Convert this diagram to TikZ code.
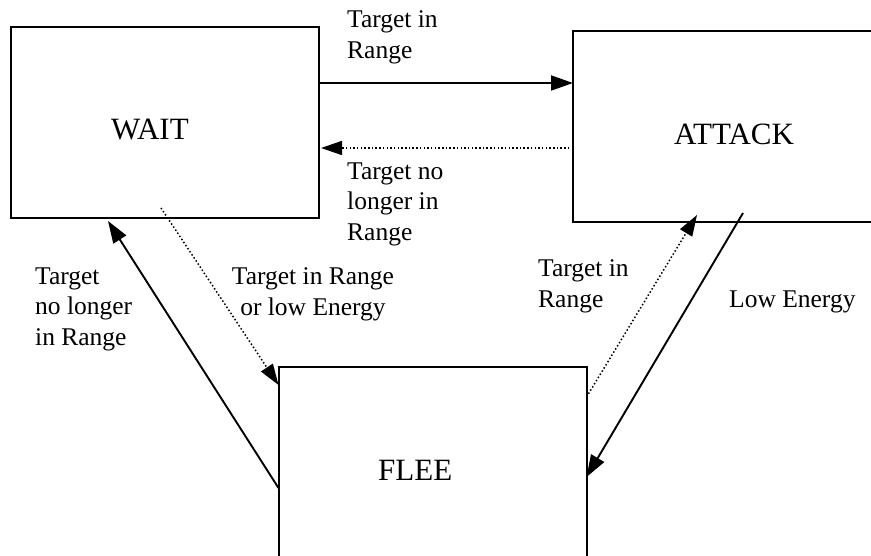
\documentclass[tikz,border=0pt]{standalone}
\usepackage{fontspec}
\setmainfont{Liberation Serif}
\usetikzlibrary{arrows.meta}

\tikzset{
  statebox/.style={draw, line width=2pt, rectangle, inner sep=0pt, outer sep=0pt,
                   minimum width=308pt, minimum height=191pt},
  statename/.style={font=\fontsize{31}{37}\selectfont, inner sep=0pt, anchor=base west},
  edgelabel/.style={font=\fontsize{25.5}{30.5}\selectfont, inner sep=0pt, align=left, anchor=north west},
  solidarrow/.style={line width=1.9pt, -{Triangle[length=22pt,width=15pt]}},
  dottedarrow/.style={line width=1.5pt, dash pattern=on 1.5pt off 2.2pt,
                      -{Triangle[length=21pt,width=14pt]}}
}

\begin{document}
\begin{tikzpicture}[x=1pt, y=-1pt]
  \useasboundingbox (0,0) rectangle (871,556);
  \clip (0,0) rectangle (871,556);

  % the three states
  \node[statebox] (wait)   at (165,122.5) {};
  \node[statebox] (attack) at (727,126.5) {};
  \node[statebox] (flee)   at (432.5,462.5) {};

  \node[statename] (waitname)   at (111,140) {WAIT};
  \node[statename] (attackname) at (674,145) {ATTACK};
  \node[statename] (fleename)   at (378,480) {FLEE};

  % transitions between WAIT and ATTACK
  \draw[solidarrow]  ([yshift=-56pt]wait.north east) -- ([yshift=-52pt]attack.north west);
  \draw[dottedarrow] ([yshift=-117pt]attack.north west) -- ([xshift=2pt,yshift=-121pt]wait.north east);

  % transitions between WAIT and FLEE
  \draw[dottedarrow] ([xshift=150pt,yshift=10pt]wait.south west) -- ([yshift=-18pt]flee.north west);
  \draw[solidarrow]  ([yshift=-121pt]flee.north west) -- ([xshift=97pt,yshift=-3pt]wait.south west);

  % transitions between ATTACK and FLEE
  \draw[dottedarrow] ([yshift=-30pt]flee.north east) -- ([xshift=124pt,yshift=7pt]attack.south west);
  \draw[solidarrow]  ([xshift=170pt,yshift=9pt]attack.south west) -- ([yshift=-110pt]flee.north east);

  % transition labels
  \node[edgelabel] (l1) at (347,10.5)  {Target in\\Range};
  \node[edgelabel] (l2) at (347,162.5) {Target no\\longer in\\Range};
  \node[edgelabel] (l3) at (35,267.5)  {Target\\no longer\\in Range};
  \node[edgelabel, align=center, anchor=north] (l4) at (313,267.5) {Target in Range\\or low Energy};
  \node[edgelabel] (l5) at (538,259.5) {Target in\\Range};
  \node[font=\fontsize{25.5}{30.5}\selectfont, inner sep=0pt, anchor=base west] (l6) at (729,308) {Low Energy};
\end{tikzpicture}
\end{document}
